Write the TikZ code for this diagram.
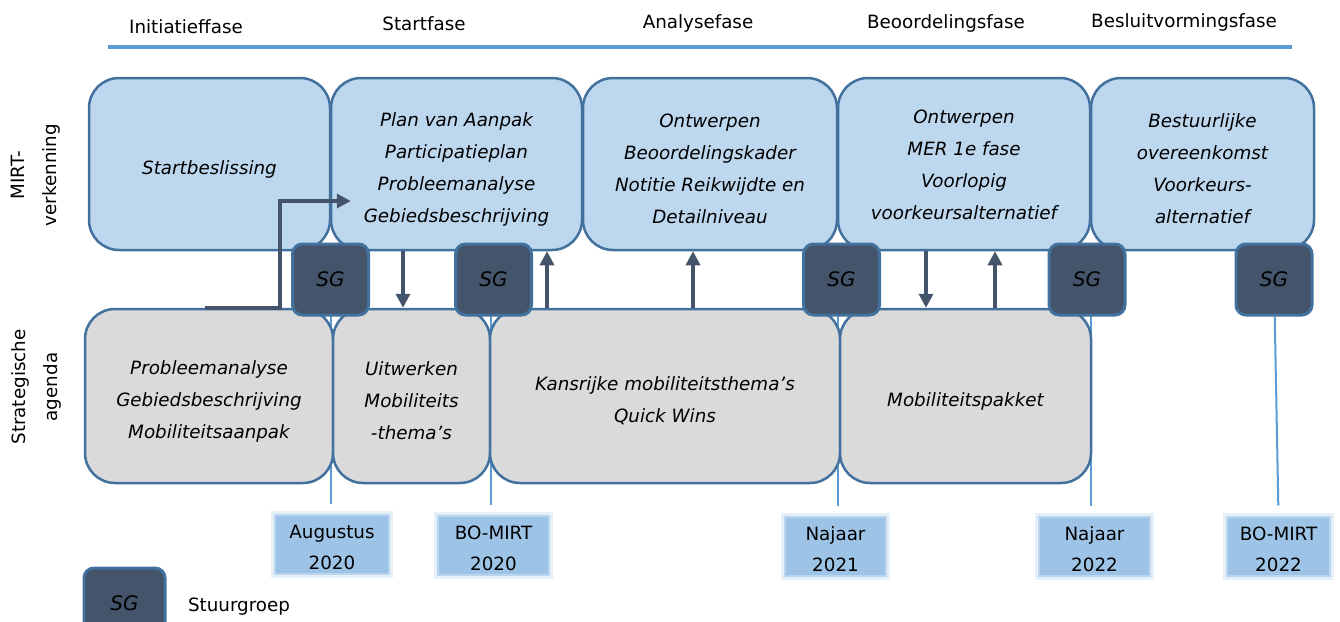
\documentclass[tikz,border=0pt]{standalone}
\usepackage{fontspec}
\setmainfont{DejaVu Sans}
\usetikzlibrary{positioning,arrows.meta,backgrounds}

\definecolor{mirtblue}{HTML}{BDD7EE}
\definecolor{agendagrey}{HTML}{DADADA}
\definecolor{boxline}{HTML}{41719C}
\definecolor{sgblue}{HTML}{44546A}
\definecolor{lineblue}{HTML}{5B9BD5}
\definecolor{dateblue}{HTML}{9DC3E6}

\begin{document}
\begin{tikzpicture}[x=1pt,y=-1pt,
        every node/.style={font=\fontsize{18.3}{32}\selectfont},
        mirt/.style={draw=boxline,line width=2.5pt,fill=mirtblue,rounded corners=30pt,minimum height=172pt},
        agenda/.style={draw=boxline,line width=2.5pt,fill=agendagrey,rounded corners=30pt,minimum height=174pt},
        boxtext/.style={align=center,font=\fontsize{18.3}{32}\selectfont\itshape,yshift=-5pt},
        sg/.style={draw=boxline,line width=3pt,fill=sgblue,rounded corners=10pt,minimum width=76pt,minimum height=71pt,font=\fontsize{20}{22}\selectfont\itshape},
        date/.style={fill=dateblue,draw=dateblue,draw opacity=0.6,line width=4pt,
            preaction={draw=dateblue,draw opacity=0.25,line width=10pt},
            minimum height=57pt,align=center,font=\fontsize{18.3}{31}\selectfont},
        datetext/.style={align=center,font=\fontsize{18.3}{31}\selectfont,yshift=-3pt},
        flow/.style={draw=sgblue,line width=4pt,-{Triangle[length=14pt,width=14pt]}},
        tick/.style={draw=lineblue,line width=2pt,shorten >=10pt}]
    \useasboundingbox (0,0) rectangle (1340,621);

    % fasen
    \node (fase1) at (186,27) {Initiatieffase};
    \node (fase2) at (424,24) {Startfase};
    \node (fase3) at (698,23) {Analysefase};
    \node (fase4) at (946,23) {Beoordelingsfase};
    \node (fase5) at (1184,22) {Besluitvormingsfase};
    \draw[draw=lineblue,line width=4pt] (108,47) -- (1292,47);

    \node[rotate=90,align=center] (rowmirt) at (36,175) {MIRT-\\verkenning};
    \node[rotate=90,align=center] (rowagenda) at (36,387) {Strategische\\agenda};

    % MIRT-verkenning
    \node[mirt,minimum width=241pt] (mirtA) at (209.5,164) {};
    \node[mirt,minimum width=251pt] (mirtB) at (456.5,164) {};
    \node[mirt,minimum width=254pt] (mirtC) at (710,164) {};
    \node[mirt,minimum width=252pt] (mirtD) at (964,164) {};
    \node[mirt,minimum width=223pt] (mirtE) at (1202.5,164) {};
    \node[boxtext] (mirtAt) at (mirtA) {Startbeslissing};
    \node[boxtext] (mirtBt) at (mirtB) {Plan van Aanpak\\Participatieplan\\Probleemanalyse\\Gebiedsbeschrijving};
    \node[boxtext] (mirtCt) at (mirtC) {Ontwerpen\\Beoordelingskader\\Notitie Reikwijdte en\\Detailniveau};
    \node[boxtext,yshift=4pt] (mirtDt) at (mirtD) {Ontwerpen\\MER 1e fase\\Voorlopig\\voorkeursalternatief};
    \node[boxtext] (mirtEt) at (mirtE) {Bestuurlijke\\overeenkomst\\Voorkeurs-\\alternatief};

    % strategische agenda
    \node[agenda,minimum width=248pt] (agA) at (209,396) {};
    \node[agenda,minimum width=157pt] (agB) at (411.5,396) {};
    \node[agenda,minimum width=350pt] (agC) at (665,396) {};
    \node[agenda,minimum width=251pt] (agD) at (965.5,396) {};
    \node[boxtext] (agAt) at (agA) {Probleemanalyse\\Gebiedsbeschrijving\\Mobiliteitsaanpak};
    \node[boxtext] (agBt) at (agB) {Uitwerken\\Mobiliteits\\-thema’s};
    \node[boxtext] (agCt) at (agC) {Kansrijke mobiliteitsthema’s\\Quick Wins};
    \node[boxtext] (agDt) at (agD) {Mobiliteitspakket};

    % stuurgroepen
    \node[sg] (sg1) at (330.5,279.5) {SG};
    \node[sg] (sg2) at (493.5,279.5) {SG};
    \node[sg] (sg3) at (841.5,279.5) {SG};
    \node[sg] (sg4) at (1087,279.5) {SG};
    \node[sg] (sg5) at (1274,279.5) {SG};

    % momenten
    \node[date,minimum width=112pt] (date1) at (332,544.5) {};
    \node[date,minimum width=109pt] (date2) at (493.5,545.5) {};
    \node[date,minimum width=99pt] (date3) at (835.5,546) {};
    \node[date,minimum width=109pt] (date4) at (1094.5,546) {};
    \node[date,minimum width=101pt] (date5) at (1278.5,546) {};
    \node[datetext] (date1t) at (date1) {Augustus\\2020};
    \node[datetext] (date2t) at (date2) {BO-MIRT\\2020};
    \node[datetext] (date3t) at (date3) {Najaar\\2021};
    \node[datetext] (date4t) at (date4) {Najaar\\2022};
    \node[datetext] (date5t) at (date5) {BO-MIRT\\2022};

    \begin{scope}[on background layer]
        \draw[tick] (sg1 -| mirtA.east) -- (date1.north -| mirtA.east);
        \draw[tick] (sg2 -| agB.east) -- (date2.north -| agB.east);
        \draw[tick] (sg3 -| mirtC.east) -- (date3.north -| mirtC.east);
        \draw[tick] (sg4 -| mirtD.east) -- (date4.north -| mirtD.east);
        \draw[tick] (sg5) -- (date5.north);
    \end{scope}

    % terugkoppeling
    \draw[flow] ([xshift=-4pt]agA.north) -- ++(75,0) |- ([xshift=21pt,yshift=-37pt]mirtB.west);
    \draw[flow] ([xshift=-53.5pt]mirtB.south) -- ([xshift=-8.5pt]agB.north);
    \draw[flow] ([xshift=-118pt]agC.north) -- ([xshift=90.5pt]mirtB.south);
    \draw[flow] ([xshift=28pt]agC.north) -- ([xshift=-17pt]mirtC.south);
    \draw[flow] ([xshift=-38pt]mirtD.south) -- ([xshift=-39.5pt]agD.north);
    \draw[flow] ([xshift=29.5pt]agD.north) -- ([xshift=31pt]mirtD.south);

    % legenda
    \node[sg,minimum width=81pt] (legendsg) at (124.5,603.5) {SG};
    \node[right=18pt of legendsg,yshift=-3pt] (legendtext) {Stuurgroep};
\end{tikzpicture}
\end{document}
